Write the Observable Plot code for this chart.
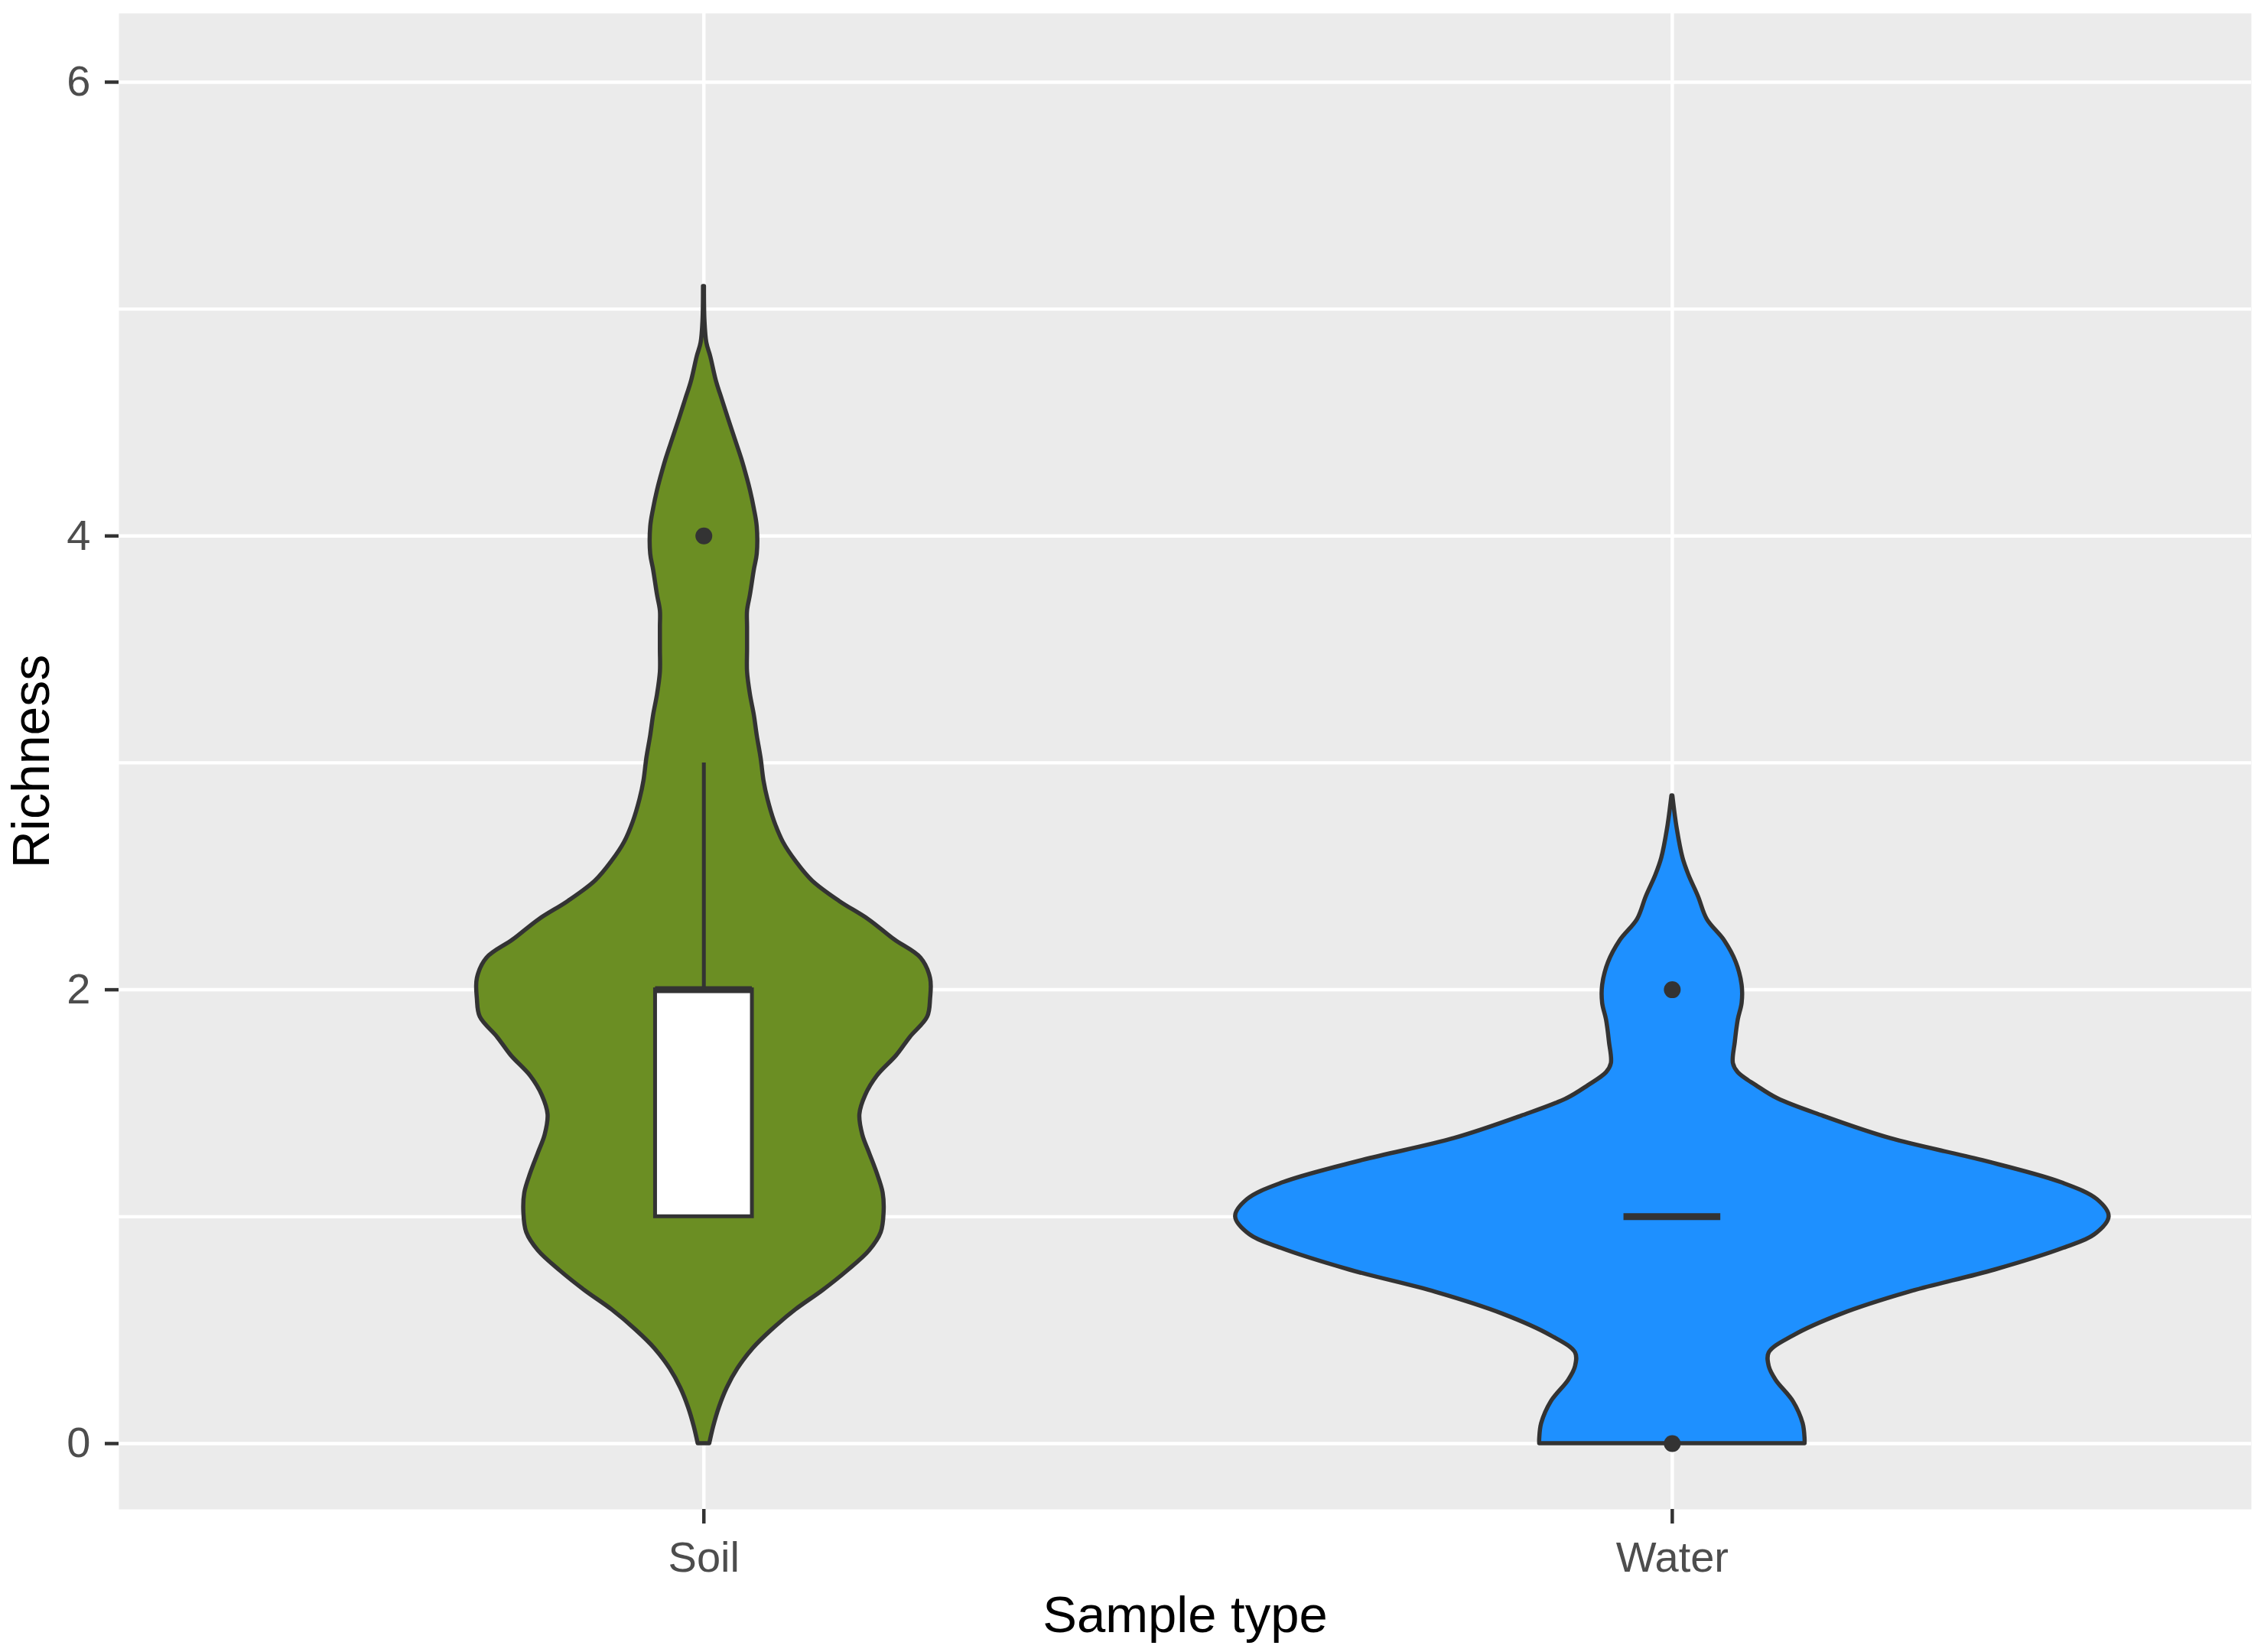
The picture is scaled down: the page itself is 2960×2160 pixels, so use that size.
<!DOCTYPE html>
<html>
<head>
<meta charset="utf-8">
<script src="https://cdn.jsdelivr.net/npm/d3@7"></script>
<script src="https://cdn.jsdelivr.net/npm/@observablehq/plot@0.6"></script>
<style>
  html, body { margin: 0; padding: 0; background: #ffffff; }
  #chart { width: 2960px; height: 2160px; }
</style>
</head>
<body>
<div id="chart"></div>
<script>
// ---- Data ----
const categories = ["Soil", "Water"];
const fillColors = ["#6B8E23", "#1E90FF"];
const yTicks = [0, 2, 4, 6];
const yMinorTicks = [1, 3, 5];

// Violin profiles: richness level and half-width (in category units)
const soilLevels = [0, 0.074, 0.16, 0.245, 0.33, 0.42, 0.50, 0.59, 0.675, 0.76, 0.85, 0.93, 1.02, 1.105, 1.19, 1.28, 1.36, 1.45, 1.535, 1.62, 1.71, 1.79, 1.88, 1.96, 2.05, 2.14, 2.22, 2.31, 2.39, 2.48, 2.566, 2.65, 2.74, 2.84, 2.92, 3.02, 3.12, 3.21, 3.30, 3.40, 3.50, 3.60, 3.67, 3.74, 3.85, 3.92, 4.04, 4.12, 4.20, 4.25, 4.34, 4.43, 4.52, 4.60, 4.68, 4.79, 4.85, 4.95, 5.10];
const soilHalfWidth = [0.006, 0.010, 0.016, 0.024, 0.035, 0.051, 0.070, 0.095, 0.123, 0.148, 0.171, 0.183, 0.186, 0.185, 0.179, 0.171, 0.164, 0.161, 0.167, 0.179, 0.199, 0.213, 0.231, 0.234, 0.234, 0.224, 0.197, 0.170, 0.140, 0.112, 0.095, 0.082, 0.073, 0.066, 0.062, 0.059, 0.055, 0.052, 0.048, 0.045, 0.045, 0.045, 0.045, 0.048, 0.052, 0.055, 0.055, 0.052, 0.048, 0.045, 0.039, 0.032, 0.025, 0.019, 0.013, 0.007, 0.003, 0.001, 0.0005];

const waterLevels = [0, 0.02, 0.088, 0.185, 0.28, 0.34, 0.40, 0.475, 0.571, 0.667, 0.765, 0.861, 0.92, 1.0, 1.075, 1.15, 1.248, 1.345, 1.443, 1.52, 1.577, 1.635, 1.675, 1.77, 1.867, 1.94, 2.02, 2.12, 2.216, 2.31, 2.41, 2.506, 2.58, 2.71, 2.855];
const waterHalfWidth = [0.137, 0.137, 0.135, 0.125, 0.107, 0.100, 0.100, 0.125, 0.175, 0.244, 0.333, 0.404, 0.436, 0.451, 0.439, 0.402, 0.320, 0.225, 0.156, 0.109, 0.087, 0.068, 0.063, 0.065, 0.068, 0.072, 0.072, 0.066, 0.054, 0.036, 0.027, 0.017, 0.011, 0.005, 0.0005];

// Boxplot statistics
const boxLower = [1, 1];
const boxUpper = [2, 1];
const boxMedian = [2, 1];
const whiskerUpper = [3, 1];
const boxHalfWidth = 0.05;

// Outliers
const outlierType = ["Soil", "Water", "Water"];
const outlierValue = [4, 2, 0];

// ---- Build tables ----
const profiles = [
  {levels: soilLevels, widths: soilHalfWidth},
  {levels: waterLevels, widths: waterHalfWidth}
];
const violinRows = [];
categories.forEach((cat, i) => {
  profiles[i].levels.forEach((lv, j) => {
    violinRows.push({type: cat, pos: i + 1, level: lv, hw: profiles[i].widths[j]});
  });
});
const boxRows = categories.map((cat, i) => ({
  type: cat, pos: i + 1, lo: boxLower[i], hi: boxUpper[i], med: boxMedian[i], wh: whiskerUpper[i]
}));
const outlierRows = outlierType.map((t, i) => ({pos: categories.indexOf(t) + 1, value: outlierValue[i]}));

const dark = "#333333";

const chart = Plot.plot({
  width: 2960,
  height: 2160,
  marginLeft: 155,
  marginRight: 17,
  marginTop: 17,
  marginBottom: 187,
  style: {fontFamily: "'Liberation Sans', Arial, Helvetica, sans-serif", background: "#ffffff", overflow: "visible"},
  x: {type: "linear", domain: [0.396, 2.598]},
  y: {type: "linear", domain: [-0.29, 6.303]},
  color: {domain: categories, range: fillColors},
  marks: [
    Plot.frame({fill: "#EBEBEB", stroke: null}),
    Plot.gridY(yMinorTicks, {stroke: "#ffffff", strokeOpacity: 1, strokeWidth: 4.3}),
    Plot.gridY(yTicks, {stroke: "#ffffff", strokeOpacity: 1, strokeWidth: 4.5}),
    Plot.gridX([1, 2], {stroke: "#ffffff", strokeOpacity: 1, strokeWidth: 4.5}),
    Plot.axisY(yTicks, {
      tickFormat: d => String(d), tickSize: 18, tickPadding: 19, fontSize: 56,
      fill: "#4D4D4D", stroke: dark, strokeWidth: 4.5, label: null
    }),
    Plot.axisX([1, 2], {
      tickFormat: d => categories[d - 1], tickSize: 19, tickPadding: 23, fontSize: 56,
      fill: "#4D4D4D", stroke: dark, strokeWidth: 4.5, label: null
    }),
    Plot.areaX(violinRows, {
      y: "level",
      x1: d => d.pos - d.hw,
      x2: d => d.pos + d.hw,
      z: "type",
      fill: "type",
      stroke: dark,
      strokeWidth: 5.5,
      strokeLinejoin: "round",
      curve: "catmull-rom"
    }),
    Plot.ruleX(boxRows, {x: "pos", y1: "hi", y2: "wh", stroke: dark, strokeWidth: 5}),
    Plot.rect(boxRows, {
      x1: d => d.pos - boxHalfWidth, x2: d => d.pos + boxHalfWidth,
      y1: "lo", y2: "hi", fill: "#ffffff", stroke: dark, strokeWidth: 5
    }),
    Plot.ruleY(boxRows, {
      y: "med", x1: d => d.pos - boxHalfWidth, x2: d => d.pos + boxHalfWidth,
      stroke: dark, strokeWidth: 9
    }),
    Plot.dot(outlierRows, {x: "pos", y: "value", r: 11, fill: dark, stroke: null}),
    Plot.text(["Sample type"], {
      frameAnchor: "bottom", textAnchor: "middle", lineAnchor: "bottom", dy: 160, fontSize: 67, fill: "#000000"
    }),
    Plot.text(["Richness"], {
      frameAnchor: "left", textAnchor: "middle", rotate: -90, dx: -113, fontSize: 68, fill: "#000000"
    })
  ]
});

document.getElementById("chart").appendChild(chart);
</script>
</body>
</html>
